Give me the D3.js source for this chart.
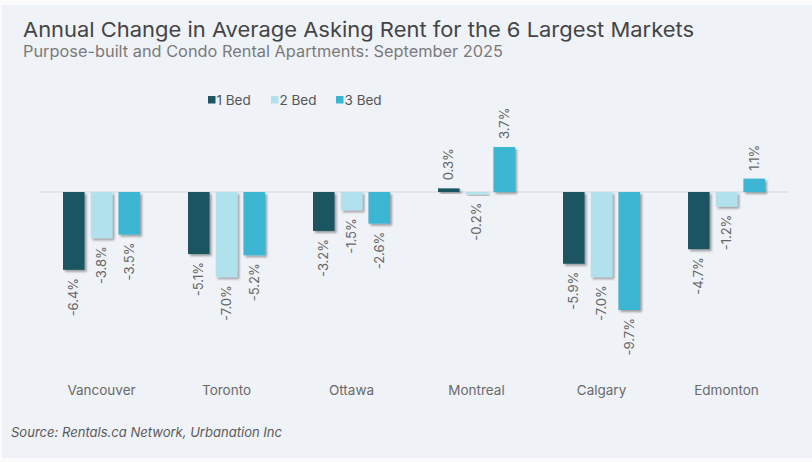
<!DOCTYPE html>
<html>
<head>
<meta charset="utf-8">
<script src="https://cdn.jsdelivr.net/npm/d3@7"></script>
<style>
  body { margin: 0; background: #fbfbfb; }
  text { font-family: Inter, Roboto, sans-serif; }
</style>
</head>
<body>
<div id="chart-area"></div>
<script>
// Data //
const markets = ["Vancouver", "Toronto", "Ottawa", "Montreal", "Calgary", "Edmonton"];
const series = ["1 Bed", "2 Bed", "3 Bed"];
const oneBed = [-6.4, -5.1, -3.2, 0.3, -5.9, -4.7];
const twoBed = [-3.8, -7.0, -1.5, -0.2, -7.0, -1.2];
const threeBed = [-3.5, -5.2, -2.6, 3.7, -9.7, 1.1];
const colors = ["#1c5562", "#b0e1ed", "#3cb6d4"];

const values = [oneBed, twoBed, threeBed];

const W = 812, H = 462;

var svg = d3.select("#chart-area")
  .append("svg")
  .attr("width", W)
  .attr("height", H);

// drop shadow under bars
var defs = svg.append("defs");
var f = defs.append("filter").attr("id", "shadow")
  .attr("x", "-30%").attr("y", "-30%").attr("width", "160%").attr("height", "160%");
f.append("feDropShadow")
  .attr("dx", 2).attr("dy", 2).attr("stdDeviation", 1.3)
  .attr("flood-color", "#000").attr("flood-opacity", 0.35);

// panel
svg.append("rect")
  .attr("x", 2).attr("y", 5)
  .attr("width", W - 2).attr("height", 453)
  .attr("fill", "#eff2f7");

// titles
svg.append("text")
  .attr("x", 23).attr("y", 37)
  .attr("font-size", "20.5px")
  .attr("fill", "#444")
  .attr("textLength", 671)
  .attr("lengthAdjust", "spacingAndGlyphs")
  .text("Annual Change in Average Asking Rent for the 6 Largest Markets");
svg.append("text")
  .attr("x", 23).attr("y", 57)
  .attr("font-size", "15.5px")
  .attr("fill", "#7a7a7a")
  .attr("textLength", 480)
  .attr("lengthAdjust", "spacingAndGlyphs")
  .text("Purpose-built and Condo Rental Apartments: September 2025");

// scales
var x0 = d3.scaleBand()
  .domain(markets)
  .range([39, 789]);

var x1 = d3.scaleBand()
  .domain(series)
  .range([x0.bandwidth() / 2 - 38.5, x0.bandwidth() / 2 + 38.5])
  .paddingInner(0.22);

var y = d3.scaleLinear()
  .domain([-9.7, 3.7])
  .range([310, 147]);

// zero line
svg.append("line")
  .attr("x1", 39).attr("x2", 789)
  .attr("y1", y(0)).attr("y2", y(0))
  .attr("stroke", "#d6d9dd").attr("stroke-width", 1);

// bars
var groups = svg.selectAll("g.market")
  .data(markets)
  .enter().append("g")
  .attr("class", "market")
  .attr("transform", d => "translate(" + x0(d) + ",0)");

groups.selectAll("rect")
  .data((m, i) => series.map((s, j) => ({ s: s, v: values[j][i], c: colors[j] })))
  .enter().append("rect")
  .attr("x", d => x1(d.s))
  .attr("width", x1.bandwidth())
  .attr("y", d => y(Math.max(0, d.v)))
  .attr("height", d => Math.abs(y(d.v) - y(0)))
  .attr("fill", d => d.c)
  .attr("filter", "url(#shadow)");

// value labels (rotated)
groups.selectAll("text.val")
  .data((m, i) => series.map((s, j) => ({ s: s, v: values[j][i] })))
  .enter().append("text")
  .attr("class", "val")
  .attr("transform", d => {
    var cx = x1(d.s) + x1.bandwidth() / 2 + 4.5;
    var cy = d.v < 0 ? y(d.v) + 8 : y(d.v) - 8;
    return "translate(" + cx + "," + cy + ") rotate(-90)";
  })
  .attr("text-anchor", d => d.v < 0 ? "end" : "start")
  .attr("font-size", "13px")
  .attr("fill", "#666")
  .text(d => d.v.toFixed(1) + "%");

// category axis labels
var xAxis = d3.axisBottom(x0).tickSize(0).tickPadding(0);
var ax = svg.append("g")
  .attr("transform", "translate(0,385)")
  .call(xAxis);
ax.select(".domain").remove();
ax.selectAll("text")
  .attr("font-size", "13.5px")
  .attr("font-family", "Inter, Roboto, sans-serif")
  .attr("fill", "#6a6a6a");

// legend
var legendX = [208, 271, 336];
var lg = svg.selectAll("g.legend")
  .data(series)
  .enter().append("g")
  .attr("class", "legend")
  .attr("transform", (d, i) => "translate(" + legendX[i] + ",96)");
lg.append("rect")
  .attr("width", 7.5).attr("height", 7.5)
  .attr("fill", (d, i) => colors[i]);
lg.append("text")
  .attr("x", 8.5).attr("y", 8.5)
  .attr("font-size", "13.5px")
  .attr("fill", "#555")
  .text(d => d);

// source
svg.append("text")
  .attr("x", 11).attr("y", 437)
  .attr("font-size", "13.5px")
  .attr("font-style", "italic")
  .attr("fill", "#5a5a5a")
  .attr("textLength", 271)
  .attr("lengthAdjust", "spacingAndGlyphs")
  .text("Source: Rentals.ca Network, Urbanation Inc");
</script>
</body>
</html>
